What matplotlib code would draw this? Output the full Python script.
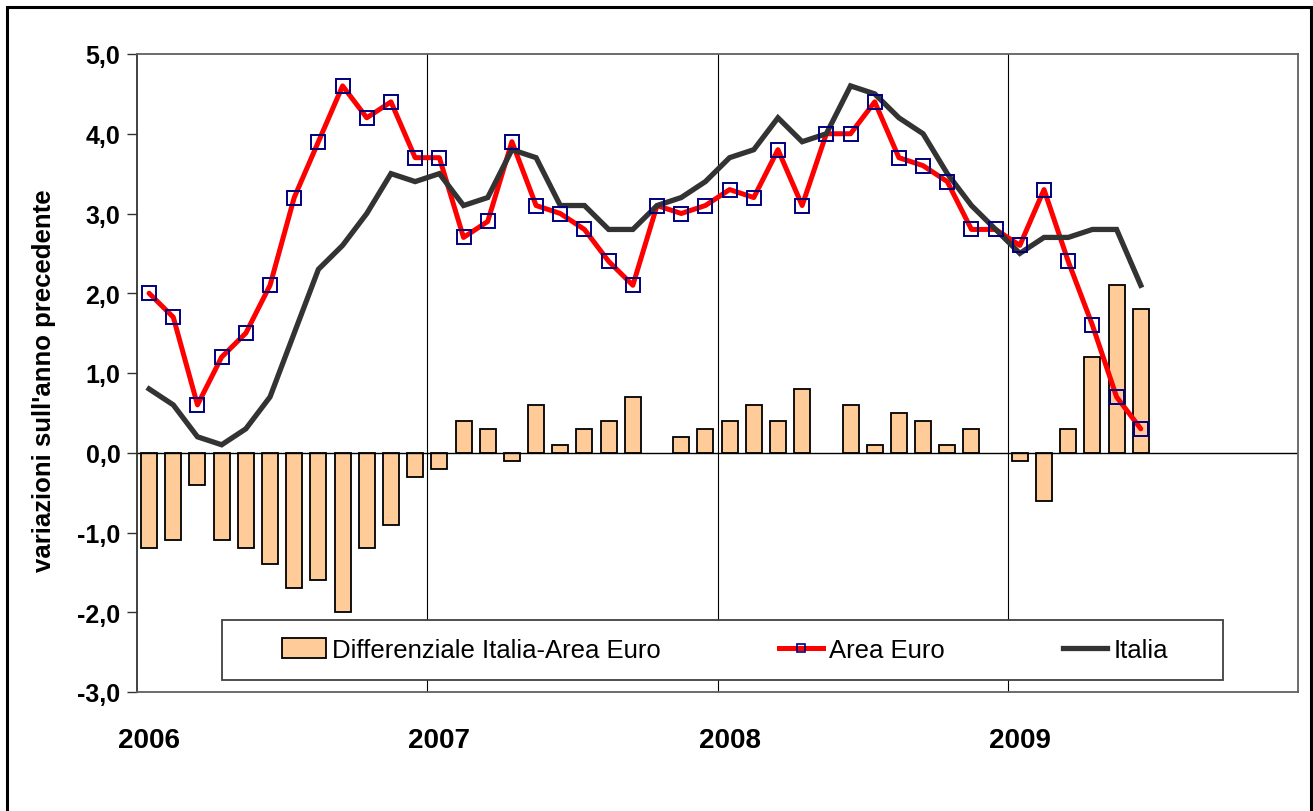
import matplotlib
matplotlib.use('Agg')
import matplotlib.pyplot as plt
import matplotlib.patches as mpatches
from matplotlib.lines import Line2D
import numpy as np

plt.rcParams['font.family'] = ['Liberation Sans', 'DejaVu Sans']

# monthly data, Jan 2006 - Jun 2009
area_euro = [2.0, 1.7, 0.6, 1.2, 1.5, 2.1, 3.2, 3.9, 4.6, 4.2, 4.4, 3.7,
             3.7, 2.7, 2.9, 3.9, 3.1, 3.0, 2.8, 2.4, 2.1, 3.1, 3.0, 3.1,
             3.3, 3.2, 3.8, 3.1, 4.0, 4.0, 4.4, 3.7, 3.6, 3.4, 2.8, 2.8,
             2.6, 3.3, 2.4, 1.6, 0.7, 0.3]
italia = [0.8, 0.6, 0.2, 0.1, 0.3, 0.7, 1.5, 2.3, 2.6, 3.0, 3.5, 3.4,
          3.5, 3.1, 3.2, 3.8, 3.7, 3.1, 3.1, 2.8, 2.8, 3.1, 3.2, 3.4,
          3.7, 3.8, 4.2, 3.9, 4.0, 4.6, 4.5, 4.2, 4.0, 3.5, 3.1, 2.8,
          2.5, 2.7, 2.7, 2.8, 2.8, 2.1]
differenziale = [-1.2, -1.1, -0.4, -1.1, -1.2, -1.4, -1.7, -1.6, -2.0, -1.2, -0.9, -0.3,
                 -0.2, 0.4, 0.3, -0.1, 0.6, 0.1, 0.3, 0.4, 0.7, 0.0, 0.2, 0.3,
                 0.4, 0.6, 0.4, 0.8, 0.0, 0.6, 0.1, 0.5, 0.4, 0.1, 0.3, 0.0,
                 -0.1, -0.6, 0.3, 1.2, 2.1, 1.8]
years = ['2006', '2007', '2008', '2009']
yticks = [-3, -2, -1, 0, 1, 2, 3, 4, 5]
ytick_labels = ['-3,0', '-2,0', '-1,0', '0,0', '1,0', '2,0', '3,0', '4,0', '5,0']

x = np.arange(len(area_euro))
diff = np.array(differenziale)
nz = diff != 0  # zero differences draw no bar

fig = plt.figure(figsize=(13.13, 8.12), dpi=100)
ax = fig.add_axes([137 / 1313, 1 - 693 / 812, 1161 / 1313, 638 / 812])

ax.bar(x[nz], diff[nz], width=0.66, color='#FFCC99', edgecolor='black',
       linewidth=1.3, zorder=2)
ax.plot(x, area_euro, color='#FF0000', lw=3.6, zorder=3,
        solid_joinstyle='round', solid_capstyle='round')
ax.plot(x, italia, color='#333333', lw=3.8, zorder=4,
        solid_joinstyle='miter')
ax.plot(x, area_euro, ls='none', marker='s', ms=9.5, mfc='none',
        mec='#000080', mew=1.4, zorder=5)

ax.axhline(0, color='black', lw=1, zorder=2.5)
for b in [11.5, 23.5, 35.5]:
    ax.axvline(b, color='black', lw=0.8, zorder=1)

ax.set_xlim(-0.5, 47.5)
ax.set_ylim(-3, 5)
ax.set_yticks(yticks)
ax.set_yticklabels(ytick_labels, fontsize=18, fontweight='bold')
ax.set_xticks([0, 12, 24, 36])
ax.set_xticklabels(years, fontsize=20, fontweight='bold')
ax.tick_params(axis='x', length=0, pad=25)
ax.tick_params(axis='y', direction='out', length=7, width=1, color='#333333', pad=5)

for s in ax.spines.values():
    s.set_color('#606060')
    s.set_linewidth(1.3)
ax.spines['left'].set_color('#333333')

ax.set_ylabel("variazioni sull'anno precedente", fontsize=18.5, fontweight='bold')
ax.yaxis.set_label_coords((56 - 137) / 1161, 0.49)

# legend box
box = mpatches.Rectangle(((222 - 137) / 1161, (693 - 681) / 638),
                         (1223 - 222) / 1161, 60 / 638,
                         transform=ax.transAxes, facecolor='white',
                         edgecolor='#404040', lw=1.3, zorder=6, clip_on=False)
ax.add_patch(box)
handles = [mpatches.Patch(facecolor='#FFCC99', edgecolor='black', lw=1.3),
           Line2D([], [], color='#FF0000', lw=3.6, marker='s', ms=6,
                  mfc='none', mec='#000080', mew=1.2),
           Line2D([], [], color='#333333', lw=3.8)]
leg = ax.legend(handles, ['Differenziale Italia-Area Euro', 'Area Euro', 'Italia'],
                loc='center', bbox_to_anchor=((725 - 137) / 1161, (693 - 651) / 638),
                ncol=3, frameon=False, fontsize=18.5, handlelength=1.7,
                handleheight=0.8, handletextpad=0.25, columnspacing=4.6)
leg.set_zorder(7)

# title, cut off at the top edge as in the original
fig.text(0.5027, 1 + 5 / 812, '(indici armonizzati dei prezzi al consumo)',
         ha='center', va='baseline', fontsize=17, fontweight='bold')

# outer frame
fig.patches.append(mpatches.Rectangle((7 / 1313, -0.05), 1304 / 1313, 1.05 - 8 / 812,
                                      transform=fig.transFigure, fill=False,
                                      edgecolor='black', lw=2.2))

fig.savefig('out.png', dpi=100)
